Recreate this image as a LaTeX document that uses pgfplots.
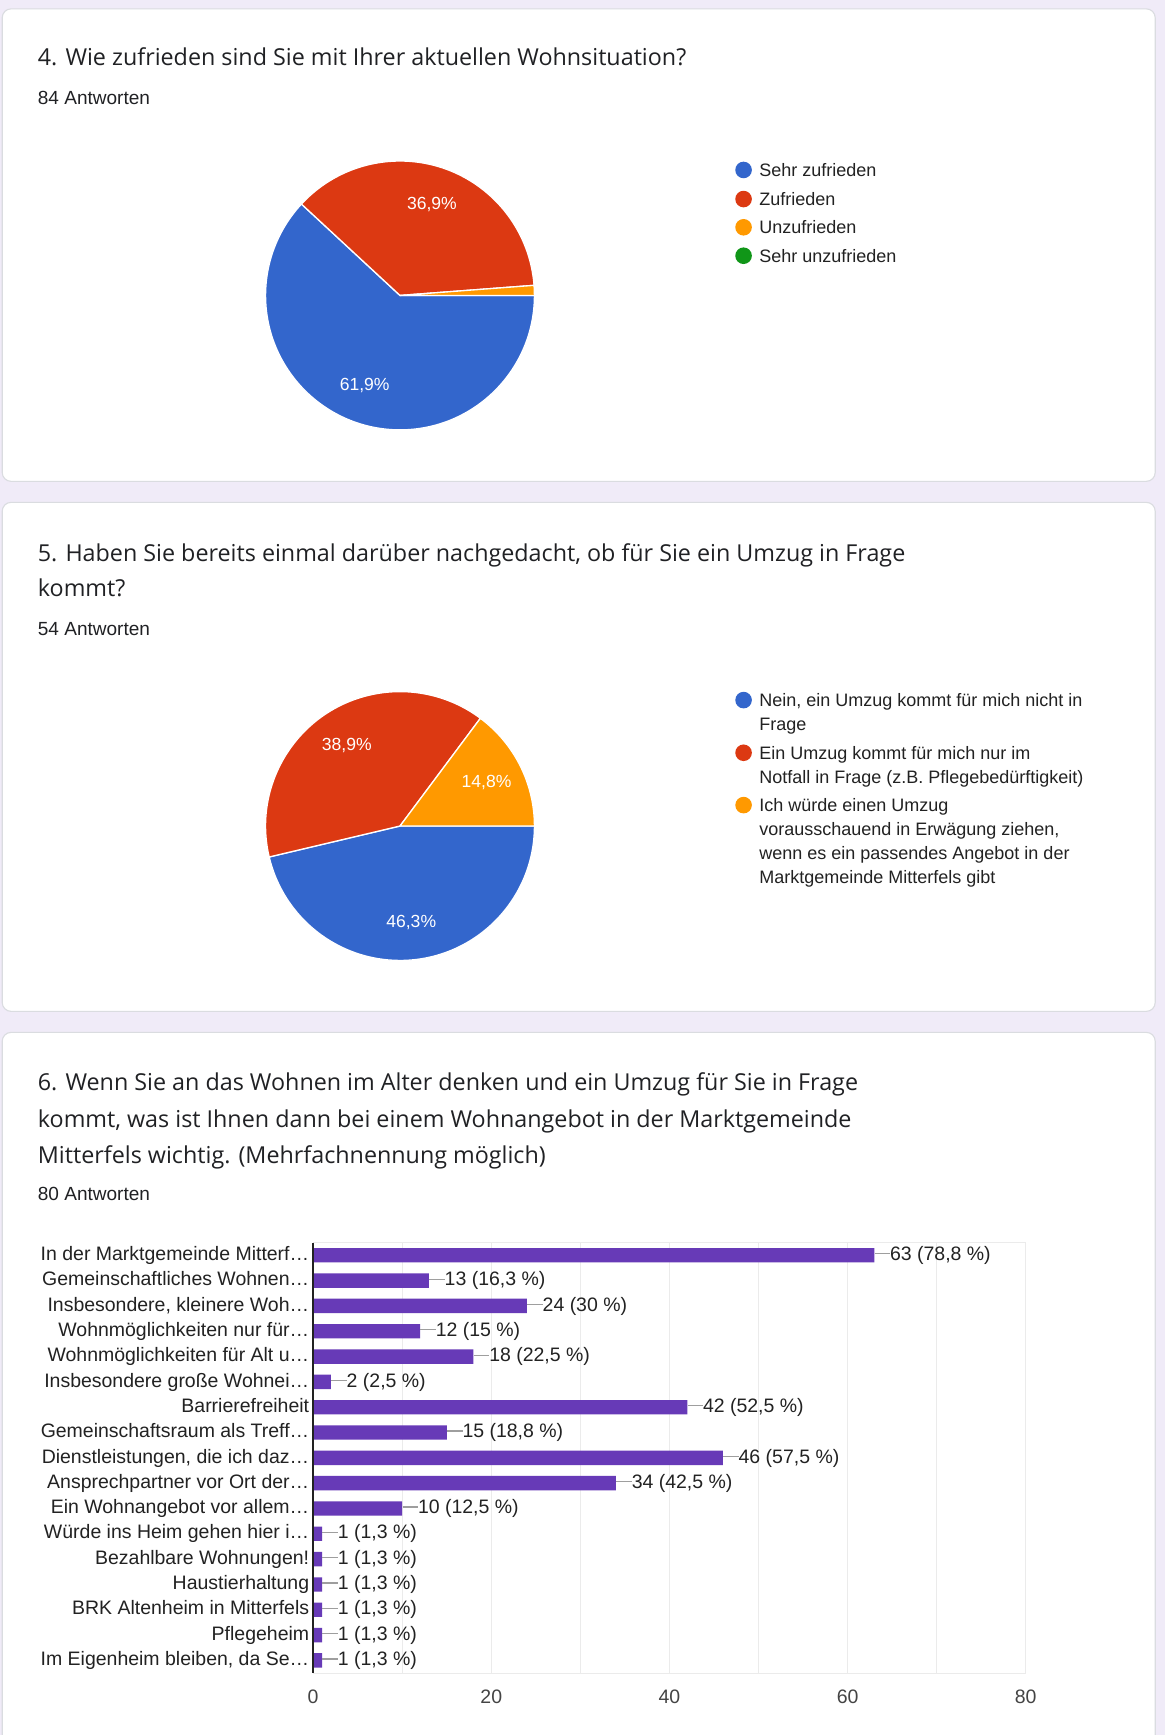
\documentclass[border=0pt]{standalone}
\usepackage{fontspec}
\setmainfont{Liberation Sans}
\newfontfamily\titlefam{Open Sans}
\usepackage{pgfplots}
\pgfplotsset{compat=1.18}

\definecolor{pagebg}{HTML}{F0EBF8}
\definecolor{cardline}{HTML}{DADCE0}
\definecolor{txt}{HTML}{202124}
\definecolor{lab}{HTML}{222222}
\definecolor{ticklab}{HTML}{444444}
\definecolor{gblue}{HTML}{3366CC}
\definecolor{gred}{HTML}{DC3912}
\definecolor{gorange}{HTML}{FF9900}
\definecolor{ggreen}{HTML}{109618}
\definecolor{barpurple}{HTML}{673AB7}
\definecolor{gridc}{HTML}{EBEBEB}
\definecolor{leader}{HTML}{9E9E9E}

\newcommand\titlefont{\titlefam\fontsize{15.8pt}{18pt}\selectfont}
\newcommand\subfont{\fontsize{12.9pt}{15pt}\selectfont}
\newcommand\legfont{\fontsize{12.2pt}{14pt}\selectfont}
\newcommand\pielabfont{\fontsize{11.9pt}{14pt}\selectfont}
\newcommand\chartfont{\fontsize{13.2pt}{15pt}\selectfont}

% start (%), share (%), colour, label -- clockwise from 3 o'clock
\newcommand\pieslice[4]{%
  \pgfmathsetmacro\sA{-3.6*#1}%
  \pgfmathsetmacro\sB{-3.6*(#1+#2)}%
  \pgfmathsetmacro\sM{(\sA+\sB)/2}%
  \filldraw[fill=#3,draw=white,line width=0.9pt,line join=round]
    (axis cs:0,0) -- (axis cs:{cos(\sA)},{sin(\sA)})
    arc[start angle=\sA,end angle=\sB,radius=91.125pt] -- cycle;
  \node[text=white,font=\pielabfont,inner sep=0pt]
    at (axis cs:{0.72*cos(\sM)},{0.72*sin(\sM)}) {#4};
}

\pgfplotsset{pie/.style={hide axis,scale only axis,width=182.25pt,height=182.25pt,
  xmin=-1,xmax=1,ymin=-1,ymax=1,clip=false,anchor=center}}

\begin{document}
\begin{tikzpicture}[x=0.75pt,y=0.75pt]
\path[use as bounding box] (0,0) rectangle (1053,-1568);
\clip (0,0) rectangle (1053,-1568);
\fill[pagebg] (0,0) rectangle (1053,-1568);
\filldraw[fill=white,draw=cardline,line width=0.75pt,rounded corners=6pt] (2,-8) rectangle (1044,-435);
\filldraw[fill=white,draw=cardline,line width=0.75pt,rounded corners=6pt] (2,-454) rectangle (1044,-914);
\filldraw[fill=white,draw=cardline,line width=0.75pt,rounded corners=6pt] (2,-933) rectangle (1044,-1620);

% ---- question 4
\node[anchor=base west,inner sep=0pt,font=\titlefont,text=txt] at (34,-59.5) {4. Wie zufrieden sind Sie mit Ihrer aktuellen Wohnsituation?};
\node[anchor=base west,inner sep=0pt,font=\subfont,text=txt] at (34,-94.3) {84 Antworten};

% centre (361.5,267) px
\begin{axis}[pie,at={(271.125pt,-200.25pt)}]
  \pgfplotsextra{%
    \pieslice{0}{61.9}{gblue}{61,9\%}%
    \pieslice{61.9}{36.9}{gred}{36,9\%}%
    \pieslice{98.8}{1.2}{gorange}{}%
  }
\end{axis}

\fill[gblue]   (672,-153.6) circle[radius=7.5];
\fill[gred]    (672,-179.9) circle[radius=7.5];
\fill[gorange] (672,-205.4) circle[radius=7.5];
\fill[ggreen]  (672,-231.1) circle[radius=7.5];
\begin{scope}[every node/.style={anchor=base west,inner sep=0pt,font=\legfont,text=lab}]
\node at (686,-159.4) {Sehr zufrieden};
\node at (686,-185.7) {Zufrieden};
\node at (686,-211.2) {Unzufrieden};
\node at (686,-236.9) {Sehr unzufrieden};
\end{scope}

% ---- question 5
\node[anchor=base west,inner sep=0pt,font=\titlefont,text=txt] at (34,-507) {5. Haben Sie bereits einmal darüber nachgedacht, ob für Sie ein Umzug in Frage};
\node[anchor=base west,inner sep=0pt,font=\titlefont,text=txt] at (34,-539.5) {kommt?};
\node[anchor=base west,inner sep=0pt,font=\subfont,text=txt] at (34,-574) {54 Antworten};

% centre (361.5,746.5) px
\begin{axis}[pie,at={(271.125pt,-559.875pt)}]
  \pgfplotsextra{%
    \pieslice{0}{46.3}{gblue}{46,3\%}%
    \pieslice{46.3}{38.9}{gred}{38,9\%}%
    \pieslice{85.2}{14.8}{gorange}{14,8\%}%
  }
\end{axis}

\fill[gblue]   (672,-632.7) circle[radius=7.5];
\fill[gred]    (672,-680.3) circle[radius=7.5];
\fill[gorange] (672,-727.6) circle[radius=7.5];
\begin{scope}[every node/.style={anchor=base west,inner sep=0pt,font=\legfont,text=lab}]
\node at (686,-638.5) {Nein, ein Umzug kommt für mich nicht in};
\node at (686,-660) {Frage};
\node at (686,-686.1) {Ein Umzug kommt für mich nur im};
\node at (686,-707.8) {Notfall in Frage (z.B. Pflegebedürftigkeit)};
\node at (686,-733.4) {Ich würde einen Umzug};
\node at (686,-755.4) {vorausschauend in Erwägung ziehen,};
\node at (686,-777) {wenn es ein passendes Angebot in der};
\node at (686,-798.8) {Marktgemeinde Mitterfels gibt};
\end{scope}

% ---- question 6
\node[anchor=base west,inner sep=0pt,font=\titlefont,text=txt] at (34,-985.5) {6. Wenn Sie an das Wohnen im Alter denken und ein Umzug für Sie in Frage};
\node[anchor=base west,inner sep=0pt,font=\titlefont,text=txt] at (34,-1018.6) {kommt, was ist Ihnen dann bei einem Wohnangebot in der Marktgemeinde};
\node[anchor=base west,inner sep=0pt,font=\titlefont,text=txt] at (34,-1051.8) {Mitterfels wichtig. (Mehrfachnennung möglich)};
\node[anchor=base west,inner sep=0pt,font=\subfont,text=txt] at (34,-1085) {80 Antworten};

% plot area: x 283..927 px, y 1123..1512 px
\begin{axis}[
  at={(212.25pt,-1134pt)},anchor=south west,
  scale only axis,width=483pt,height=291.75pt,
  xbar,bar width=9.75pt,
  xmin=0,xmax=80,ymin=-0.5,ymax=16.5,y dir=reverse,
  /pgf/number format/assume math mode=true,
  xtick={0,20,40,60,80},minor xtick={10,30,50,70},
  xmajorgrids,xminorgrids,
  grid style={draw=gridc,line width=0.75pt},
  minor grid style={draw=gridc,line width=0.75pt},
  axis line style={draw=gridc,line width=0.75pt},
  major tick length=0pt,minor tick length=0pt,
  ytick={0,...,16},
  yticklabels={{In der Marktgemeinde Mitterf…},{Gemeinschaftliches Wohnen…},
    {Insbesondere, kleinere Woh…},{Wohnmöglichkeiten nur für…},
    {Wohnmöglichkeiten für Alt u…},{Insbesondere große Wohnei…},
    {Barrierefreiheit},{Gemeinschaftsraum als Treff…},
    {Dienstleistungen, die ich daz…},{Ansprechpartner vor Ort der…},
    {Ein Wohnangebot vor allem…},{Würde ins Heim gehen hier i…},
    {Bezahlbare Wohnungen!},{Haustierhaltung},
    {BRK Altenheim in Mitterfels},{Pflegeheim},
    {Im Eigenheim bleiben, da Se…}},
  yticklabel style={font=\chartfont,text=lab,inner sep=0pt,anchor=east,
    xshift=-2.5pt,text height=0.9em,text depth=0.2em},
  xticklabel style={font=\chartfont,text=ticklab,inner sep=0pt,yshift=-11pt},
  point meta=explicit symbolic,
  nodes near coords={\textcolor{leader}{\rule[0.31em]{10.5pt}{0.8pt}}\pgfplotspointmeta},
  nodes near coords align={horizontal},
  every node near coord/.append style={font=\chartfont,text=lab,inner sep=0pt,
    anchor=west,text height=0.9em,text depth=0.2em},
  clip=false,
]
\addplot[fill=barpurple,draw=none] coordinates {
  (63,0) [63 (78,8 \%)]
  (13,1) [13 (16,3 \%)]
  (24,2) [24 (30 \%)]
  (12,3) [12 (15 \%)]
  (18,4) [18 (22,5 \%)]
  (2,5)  [2 (2,5 \%)]
  (42,6) [42 (52,5 \%)]
  (15,7) [15 (18,8 \%)]
  (46,8) [46 (57,5 \%)]
  (34,9) [34 (42,5 \%)]
  (10,10) [10 (12,5 \%)]
  (1,11) [1 (1,3 \%)]
  (1,12) [1 (1,3 \%)]
  (1,13) [1 (1,3 \%)]
  (1,14) [1 (1,3 \%)]
  (1,15) [1 (1,3 \%)]
  (1,16) [1 (1,3 \%)]
};
\draw[draw=lab,line width=0.9pt] (axis cs:0,-0.5) -- (axis cs:0,16.5);
\end{axis}
\end{tikzpicture}
\end{document}
